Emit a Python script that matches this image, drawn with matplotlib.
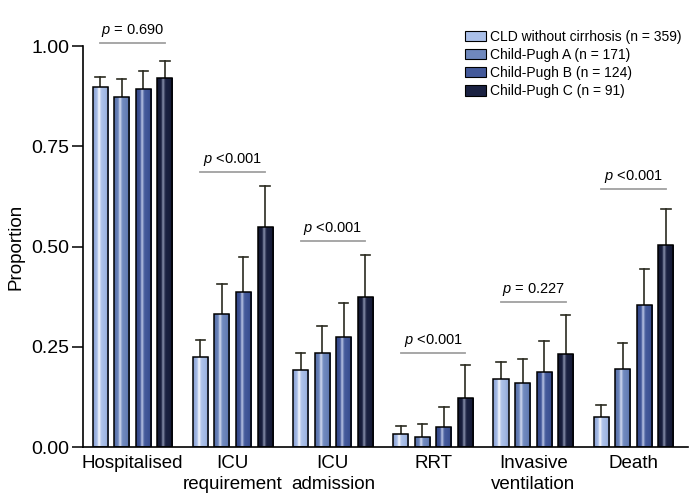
import numpy as np
import matplotlib
matplotlib.use('Agg')
import matplotlib.pyplot as plt
from matplotlib.colors import LinearSegmentedColormap
from matplotlib.patches import Rectangle

plt.rcParams['font.family'] = ['Liberation Sans', 'DejaVu Sans']
plt.rcParams['mathtext.fontset'] = 'custom'
plt.rcParams['mathtext.it'] = 'Liberation Sans:italic'
plt.rcParams['mathtext.rm'] = 'Liberation Sans'

## data
categories = ['Hospitalised', 'ICU\nrequirement', 'ICU\nadmission', 'RRT',
              'Invasive\nventilation', 'Death']
groups = ['CLD without cirrhosis (n = 359)', 'Child-Pugh A (n = 171)',
          'Child-Pugh B (n = 124)', 'Child-Pugh C (n = 91)']
# proportions, one row per group
values = np.array([
    [0.897, 0.224, 0.192, 0.032, 0.170, 0.076],
    [0.874, 0.332, 0.234, 0.025, 0.159, 0.194],
    [0.893, 0.387, 0.274, 0.050, 0.186, 0.354],
    [0.920, 0.549, 0.374, 0.122, 0.231, 0.504],
])
# upper end of the error bars
upper = np.array([
    [0.923, 0.267, 0.234, 0.052, 0.211, 0.106],
    [0.917, 0.406, 0.302, 0.057, 0.219, 0.259],
    [0.938, 0.475, 0.359, 0.100, 0.264, 0.443],
    [0.963, 0.651, 0.480, 0.204, 0.329, 0.593],
])
p_labels = ['= 0.690', '<0.001', '<0.001', '<0.001', '= 0.227', '<0.001']
p_heights = [1.008, 0.687, 0.514, 0.234, 0.362, 0.643]

## style
edge_c = ['#7f97cc', '#4a63a0', '#2a3d80', '#0b1028']
mid_c = ['#abc0e9', '#6f88bd', '#43599a', '#1b2242']
hi_c = ['#f6f8fd', '#d0d9ef', '#b6c2e3', '#848ca8']
width = 0.15
pitch = 0.215

fig = plt.figure(figsize=(6.93, 5.03), dpi=100)
ax = fig.add_axes([0.1198, 0.1113, 0.873, 0.797])

x = np.arange(len(categories))
xs = np.linspace(0, 1, 300)
# cylinder shading plus a narrow highlight stripe left of centre
prof = 0.5 * np.sin(np.pi * xs) ** 0.6 + 0.5 * np.exp(-((xs - 0.38) / 0.09) ** 2)

for g in range(len(groups)):
    cmap = LinearSegmentedColormap.from_list('g%d' % g, [edge_c[g], mid_c[g], hi_c[g]])
    pos = x + (g - 1.5) * pitch
    for i in range(len(categories)):
        left = pos[i] - width / 2
        rect = Rectangle((left, 0), width, values[g, i], facecolor='none',
                         edgecolor='black', linewidth=1.1, zorder=3)
        ax.add_patch(rect)
        im = ax.imshow(prof[None, :], cmap=cmap, vmin=0, vmax=1, aspect='auto',
                       extent=[left, left + width, 0, values[g, i]],
                       interpolation='bilinear', zorder=2)
        im.set_clip_path(rect)
        ax.plot([pos[i], pos[i]], [values[g, i], upper[g, i]], color='#2b2b20',
                linewidth=1.2, zorder=1, clip_on=False)
        ax.plot([pos[i] - 0.047, pos[i] + 0.047], [upper[g, i], upper[g, i]],
                color='#2b2b20', linewidth=1.2, zorder=1, clip_on=False)

# p-value annotations
for i in range(len(categories)):
    x0 = x[i] - 1.5 * pitch
    x1 = x[i] + 1.5 * pitch
    ax.plot([x0, x1], [p_heights[i], p_heights[i]], color='#a0a0a0',
            linewidth=1.3, clip_on=False)
    ax.text(x[i], p_heights[i] + 0.01, '$p$ ' + p_labels[i], ha='center',
            va='bottom', fontsize=10.5, clip_on=False)

# legend
handles = [Rectangle((0, 0), 1, 1, facecolor=mid_c[g], edgecolor='black',
                     linewidth=0.8) for g in range(len(groups))]
ax.legend(handles, groups, loc='upper right', bbox_to_anchor=(1.005, 1.065),
          frameon=False, fontsize=10, handlelength=1.5, handleheight=0.75,
          handletextpad=0.3, labelspacing=0.3, borderpad=0.2)

ax.set_xlim(-0.494, 5.544)
ax.set_ylim(0, 1)
ax.set_yticks([0, 0.25, 0.5, 0.75, 1.0])
ax.set_yticklabels(['0.00', '0.25', '0.50', '0.75', '1.00'])
ax.set_xticks(x)
ax.set_xticklabels(categories, fontsize=13.5, linespacing=1.3)
ax.tick_params(axis='x', length=0, pad=6)
ax.tick_params(axis='y', length=8, width=1.1, labelsize=14, pad=2)
ax.set_ylabel('Proportion', fontsize=13.5, labelpad=5)
for s in ['top', 'right']:
    ax.spines[s].set_visible(False)
for s in ['left', 'bottom']:
    ax.spines[s].set_linewidth(1.2)

fig.savefig('out.png', dpi=100)
